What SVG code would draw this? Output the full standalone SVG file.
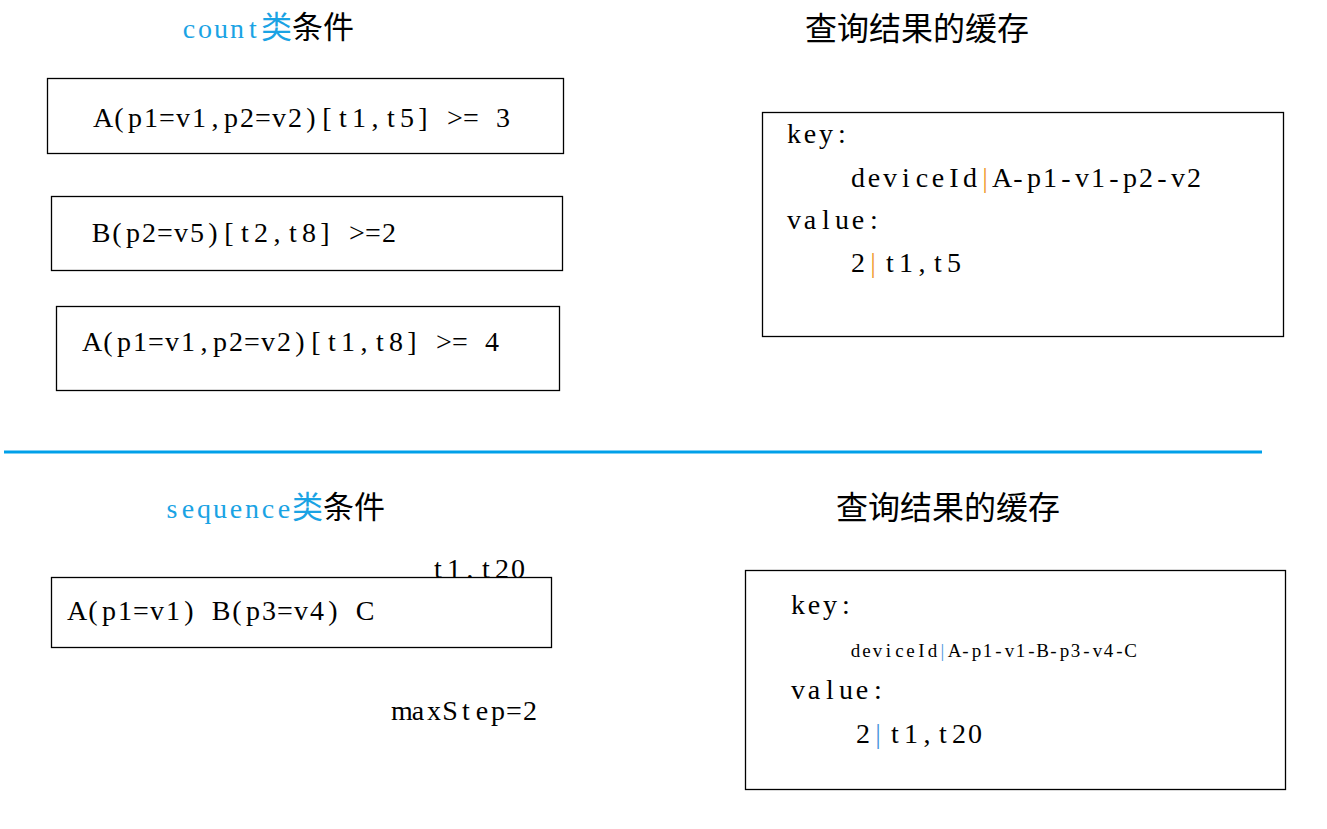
<svg xmlns="http://www.w3.org/2000/svg" width="1327" height="829" viewBox="0 0 1327 829">
<style>
.box{fill:#fff;stroke:#000;stroke-width:1.3}
.t{font-family:"Liberation Serif","Noto Sans CJK SC",serif;font-size:28px;fill:#000;text-anchor:middle}
.s{font-family:"Liberation Serif","Noto Sans CJK SC",serif;font-size:19px;fill:#000;text-anchor:middle}
.cjk{font-family:"Noto Sans CJK SC",sans-serif;font-size:31px}
.ct{font-family:"Noto Sans CJK SC",sans-serif;font-size:32px;fill:#000}
.blue{fill:#1AA3E4}
.or{fill:#F09A28}
.pb{fill:#4A96DC}
</style>
<rect width="1327" height="829" fill="#fff"/>
<g id="connectors">
<line x1="4" y1="452" x2="1262" y2="452" stroke="#00A0E9" stroke-width="3"/>
</g>
<g id="count-title"><text class="t" y="38"><tspan class="blue" x="189 205 221 237 253">count</tspan><tspan class="cjk blue" x="307.5">类</tspan><tspan class="cjk">条件</tspan></text></g>
<g id="count-cond1"><rect class="box" x="47.5" y="78.5" width="516" height="75"/><text class="t" x="103 119 135 151 167 183 199 215 231 247 263 279 295 311 327 343 359 375 391 407 423 439 455 471 487 503" y="127">A(p1=v1,p2=v2)[t1,t5] &gt;= 3</text></g>
<g id="count-cond2"><rect class="box" x="51.5" y="196.5" width="511" height="74"/><text class="t" x="101 117 133 149 165 181 197 213 229 245 261 277 293 309 325 341 357 373 389" y="242">B(p2=v5)[t2,t8] &gt;=2</text></g>
<g id="count-cond3"><rect class="box" x="56.5" y="306.5" width="503" height="84"/><text class="t" x="92 108 124 140 156 172 188 204 220 236 252 268 284 300 316 332 348 364 380 396 412 428 444 460 476 492" y="351">A(p1=v1,p2=v2)[t1,t8] &gt;= 4</text></g>
<g id="cache-title1"><text class="ct" x="805" y="40">查询结果的缓存</text></g>
<g id="cache1"><rect class="box" x="762.5" y="112.5" width="521" height="224"/>
<text class="t" x="794 810 826 842" y="143">key:</text>
<text class="t" x="858 874 890 906 922 938 954 970" y="187">deviceId<tspan class="or" x="985">|</tspan><tspan x="1002 1018 1034 1050 1066 1082 1098 1114 1130 1146 1162 1178 1194">A-p1-v1-p2-v2</tspan></text>
<text class="t" x="794 810 826 842 858 874" y="229">value:</text>
<text class="t" x="858" y="272">2<tspan class="or" x="873">|</tspan><tspan x="890 906 922 938 954">t1,t5</tspan></text>
</g>
<g id="seq-title"><text class="t" y="518"><tspan class="blue" x="172 188 204 220 236 252 268 284">sequence</tspan><tspan class="cjk blue" x="338.5">类</tspan><tspan class="cjk">条件</tspan></text></g>
<g id="seq-time"><text class="t" x="438 454 470 486 502 518" y="578">t1,t20</text></g>
<g id="seq-cond"><rect class="box" x="51.5" y="577.5" width="500" height="70"/><text class="t" x="77 93 109 125 141 157 173 189 205 221 237 253 269 285 301 317 333 349 365" y="620">A(p1=v1) B(p3=v4) C</text></g>
<g id="seq-maxstep"><text class="t" x="402 418 434 450 466 482 498 514 530" y="720">maxStep=2</text></g>
<g id="cache-title2"><text class="ct" x="836" y="519">查询结果的缓存</text></g>
<g id="cache2"><rect class="box" x="745.5" y="570.5" width="540" height="219"/>
<text class="t" x="798 814 830 846" y="614">key:</text>
<text class="s" x="855.5 866.5 877.5 888.5 899.5 910.5 921.5 932.5" y="657">deviceId<tspan class="pb" x="942.5">|</tspan><tspan x="954.5 965.5 976.5 987.5 998.5 1009.5 1020.5 1031.5 1042.5 1053.5 1064.5 1075.5 1086.5 1097.5 1108.5 1119.5 1130.5">A-p1-v1-B-p3-v4-C</tspan></text>
<text class="t" x="798 814 830 846 862 878" y="699">value:</text>
<text class="t" x="863" y="743">2<tspan class="pb" x="878">|</tspan><tspan x="895 911 927 943 959 975">t1,t20</tspan></text>
</g>
</svg>
